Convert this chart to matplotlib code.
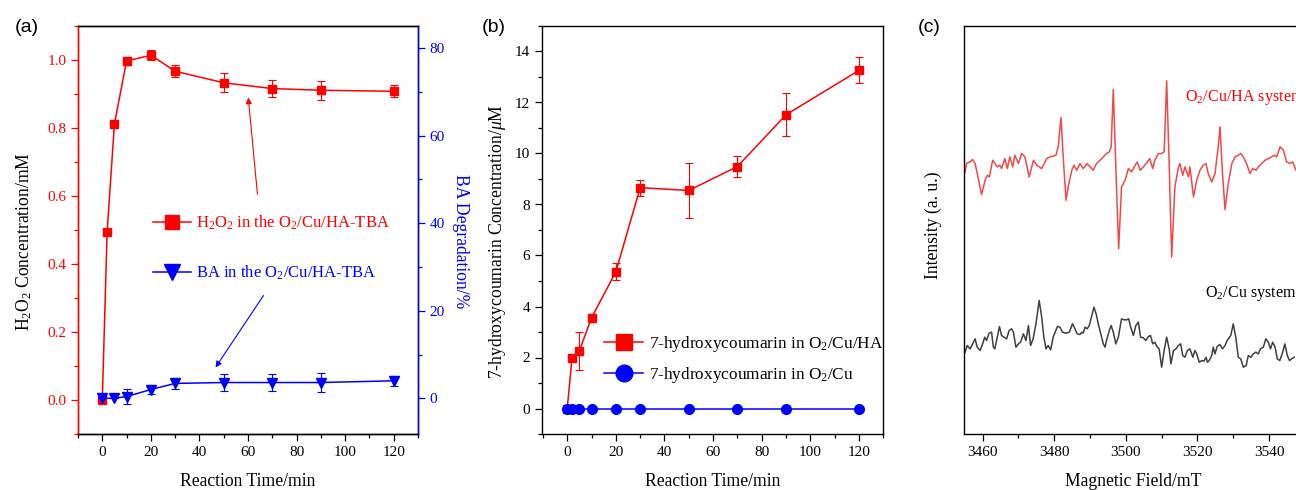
import numpy as np
import matplotlib.pyplot as plt
from matplotlib.lines import Line2D
from matplotlib.ticker import MultipleLocator

plt.rcParams['font.family'] = ['Liberation Serif', 'DejaVu Serif']
plt.rcParams['mathtext.fontset'] = 'custom'
plt.rcParams['mathtext.rm'] = 'Liberation Serif'
plt.rcParams['mathtext.it'] = 'Liberation Serif:italic'
plt.rcParams['mathtext.bf'] = 'Liberation Serif:bold'

# ---- panel (a): H2O2 and BA vs time
time_a = [0, 2, 5, 10, 20, 30, 50, 70, 90, 120]
h2o2 = [0.0, 0.495, 0.812, 0.997, 1.014, 0.967, 0.933, 0.916, 0.911, 0.908]
h2o2_err = [0, 0, 0, 0.012, 0.014, 0.018, 0.028, 0.025, 0.028, 0.018]
time_ba = [0, 5, 10, 20, 30, 50, 70, 90, 120]
ba_deg = [0, 0, 0.4, 2.0, 3.4, 3.6, 3.6, 3.6, 4.0]
ba_err = [0, 0, 1.8, 1.0, 1.3, 2.0, 1.9, 2.2, 1.1]

# ---- panel (b): 7-hydroxycoumarin vs time
time_b = [0, 2, 5, 10, 20, 30, 50, 70, 90, 120]
hc_ha = [0.0, 2.0, 2.26, 3.56, 5.36, 8.66, 8.55, 9.49, 11.52, 13.26]
hc_ha_err = [0, 0.1, 0.75, 0.15, 0.33, 0.31, 1.07, 0.43, 0.84, 0.51]
hc_cu = [0, 0, 0, 0, 0, 0, 0, 0, 0, 0]

# ---- panel (c): EPR spectra (arbitrary intensity)
field_red = [3455.1, 3455.5, 3456.5, 3457.2, 3457.9, 3458.5, 3459.7, 3460.7, 3461.3, 3461.9,
             3462.8, 3463.5, 3464.1, 3464.8, 3465.3, 3466.2, 3466.9, 3467.6, 3468.4, 3469.0,
             3470.0, 3470.9, 3471.8, 3473.0, 3474.2, 3475.1, 3476.5, 3477.9, 3478.8, 3479.6,
             3480.5, 3481.1, 3481.9, 3482.5, 3483.3, 3483.9, 3484.9, 3485.5, 3486.3, 3487.2,
             3488.1, 3489.2, 3490.0, 3490.9, 3491.8, 3492.8, 3493.7, 3494.6, 3495.4, 3495.9,
             3496.5, 3497.2, 3498.0, 3498.8, 3499.8, 3500.7, 3501.6, 3502.6, 3503.2, 3504.0,
             3504.9, 3506.0, 3506.7, 3507.5, 3508.1, 3509.1, 3510.0, 3510.7, 3511.4, 3512.1,
             3512.8, 3513.7, 3514.7, 3515.1, 3515.9, 3516.5, 3517.5, 3517.9, 3518.9, 3519.8,
             3520.7, 3521.6, 3522.4, 3523.0, 3524.0, 3524.9, 3525.8, 3526.3, 3527.0, 3527.7,
             3528.6, 3529.6, 3530.5, 3531.4, 3532.1, 3532.8, 3533.7, 3534.7, 3535.4, 3536.4,
             3537.0, 3537.9, 3538.9, 3539.8, 3540.7, 3541.4, 3542.1, 3543.1, 3544.0, 3544.9,
             3545.9, 3546.6, 3547.5]
int_red = [7.85, 8.10, 8.15, 8.22, 8.10, 7.80, 7.17, 7.60, 7.75, 7.70,
           8.20, 8.10, 8.00, 8.05, 7.95, 8.25, 7.95, 8.30, 8.00, 8.35,
           8.10, 8.40, 8.30, 7.70, 8.20, 8.05, 7.95, 8.25, 8.30, 8.32,
           8.35, 8.60, 9.48, 8.30, 7.00, 7.40, 7.90, 8.05, 7.90, 8.10,
           7.95, 8.10, 8.00, 7.90, 8.10, 8.20, 8.30, 8.40, 8.45, 8.60,
           10.32, 8.00, 5.55, 7.40, 7.60, 7.95, 7.85, 8.05, 8.15, 7.90,
           8.00, 8.15, 8.25, 7.95, 8.20, 8.40, 8.40, 8.45, 10.58, 8.10,
           5.30, 7.40, 8.00, 8.10, 7.75, 8.00, 7.70, 8.00, 7.10, 7.60,
           7.90, 8.05, 8.10, 7.80, 7.55, 7.80, 8.60, 9.20, 7.80, 6.72,
           7.50, 8.10, 8.30, 8.35, 8.40, 8.30, 8.10, 7.80, 7.95, 7.90,
           8.00, 8.10, 8.20, 8.25, 8.30, 8.35, 8.30, 8.60, 8.50, 8.15,
           8.10, 8.15, 7.90]

field_black = [3455.1, 3455.7, 3456.5, 3457.2, 3457.9, 3458.5, 3459.3, 3460.0, 3460.6, 3461.1,
               3461.8, 3462.5, 3463.0, 3463.4, 3464.1, 3464.7, 3465.3, 3466.0, 3466.7, 3467.4,
               3468.1, 3468.6, 3469.3, 3470.0, 3470.6, 3471.4, 3472.1, 3472.8, 3473.4, 3474.1,
               3474.9, 3475.8, 3476.5, 3477.1, 3477.7, 3478.3, 3479.0, 3479.7, 3480.9, 3481.6,
               3482.3, 3483.3, 3484.2,
               3485.1, 3485.8, 3486.4, 3487.2, 3487.7, 3488.1, 3488.6, 3489.2, 3489.8, 3490.4,
               3491.1, 3491.7, 3492.3, 3493.0, 3493.7, 3494.2, 3494.6, 3495.4, 3495.9, 3496.5,
               3497.2, 3497.9, 3498.8, 3499.5, 3500.2, 3500.8, 3501.3, 3502.1, 3502.8, 3503.5,
               3504.1, 3504.9, 3505.6, 3506.3, 3506.9, 3507.5, 3508.1, 3508.8, 3509.3, 3510.0,
               3510.7, 3511.4, 3512.1, 3512.6, 3513.3, 3514.0, 3514.7, 3515.3,
               3515.9, 3516.5, 3517.2, 3517.9, 3518.7, 3519.3, 3519.8, 3520.5, 3521.2, 3521.8,
               3522.4, 3522.8, 3523.3, 3524.0, 3524.4, 3524.9, 3525.5, 3526.3, 3527.0, 3527.7,
               3528.3, 3529.3, 3530.0, 3530.7, 3531.4, 3532.1, 3532.8, 3533.6, 3534.2, 3534.9,
               3535.6, 3536.3, 3537.0, 3537.6, 3538.4, 3539.1, 3539.8, 3540.4, 3541.0, 3541.7,
               3542.3, 3543.0, 3543.8, 3544.4, 3545.1, 3545.7, 3546.3, 3547.0]
int_black = [2.45, 2.65, 2.55, 2.70, 2.85, 2.60, 2.50, 2.70, 2.90, 2.80,
             3.02, 3.05, 2.60, 2.55, 2.90, 3.22, 2.95, 2.90, 2.85, 3.10,
             3.15, 3.05, 2.60, 2.70, 2.75, 3.00, 2.80, 3.25, 2.65, 2.85,
             3.30, 4.00, 3.50, 2.90, 2.55, 2.65, 2.52, 2.90, 3.22, 3.20,
             3.05, 3.02, 3.05,
             3.30, 3.15, 3.00, 2.98, 3.05, 3.02, 3.20, 3.15, 3.25, 3.50,
             3.80, 3.60, 3.30, 3.00, 2.70, 2.60, 2.80, 3.10, 3.25, 3.05,
             2.70, 2.90, 3.45, 3.42, 3.42, 3.45, 3.22, 2.95, 3.25, 3.35,
             2.90, 2.88, 2.80, 2.92, 2.95, 2.70, 2.75, 2.60, 2.55, 2.00,
             2.50, 2.90, 2.55, 2.10, 2.50, 2.55, 2.65, 2.70,
             2.35, 2.30, 2.50, 2.55, 2.30, 2.50, 2.40, 2.15, 2.20, 2.18,
             2.30, 2.15, 2.20, 2.35, 2.60, 2.40, 2.62, 2.68, 2.55, 2.65,
             2.80, 2.95, 3.30, 2.90, 2.30, 2.25, 2.00, 2.05, 2.35, 2.30,
             2.40, 2.45, 2.40, 2.55, 2.60, 2.85, 2.75, 2.55, 2.75, 2.60,
             2.25, 2.20, 2.45, 2.70, 2.35, 2.20, 2.25, 2.30]

TICK_FS = 11
LABEL_FS = 12.7

fig = plt.figure(figsize=(12.96, 4.9), dpi=100)
W, H = 1296, 490


def style_axes(ax):
    ax.tick_params(which='both', direction='out', labelsize=TICK_FS, top=False, right=False)
    ax.tick_params(which='major', length=5, width=0.9)
    ax.tick_params(which='minor', length=3, width=0.9)
    for s in ax.spines.values():
        s.set_linewidth(1.0)


# ================= (a)
ax1 = fig.add_axes([78 / W, 56 / H, 340 / W, 408 / H])
ax1.errorbar(time_a, h2o2, yerr=h2o2_err, color='red', marker='s', markersize=6.3,
             lw=1.1, capsize=3, elinewidth=0.8, capthick=0.8, zorder=3)
ax1.set_xlim(-10, 130)
ax1.set_ylim(-0.1, 1.1)
ax1.xaxis.set_major_locator(MultipleLocator(20))
ax1.xaxis.set_minor_locator(MultipleLocator(10))
ax1.yaxis.set_major_locator(MultipleLocator(0.2))
ax1.yaxis.set_minor_locator(MultipleLocator(0.1))
ax1.yaxis.set_major_formatter(plt.FormatStrFormatter('%.1f'))
style_axes(ax1)
ax1.tick_params(axis='y', which='both', colors='red')
ax1.spines['left'].set_color('red')
ax1.set_xlabel('Reaction Time/min', fontsize=LABEL_FS)
ax1.set_ylabel(r'H$_2$O$_2$ Concentration/mM', fontsize=LABEL_FS)
ax1.xaxis.set_label_coords(0.5, -0.095)
ax1.yaxis.set_label_coords(-0.13, 0.473)

ax2 = ax1.twinx()
ax2.errorbar(time_ba, ba_deg, yerr=ba_err, color='blue', marker='v', markersize=7.5,
             lw=1.1, capsize=3, elinewidth=0.8, capthick=0.8, zorder=3)
ax2.set_ylim(-8.15, 85)
ax2.yaxis.set_major_locator(MultipleLocator(20))
ax2.yaxis.set_minor_locator(MultipleLocator(10))
style_axes(ax2)
ax2.tick_params(axis='y', which='both', colors='blue', right=True, left=False)
ax2.spines['right'].set_color('blue')
ax2.spines['left'].set_color('red')
ax2.set_ylabel('BA Degradation/%', fontsize=LABEL_FS, color='blue', rotation=270, va='bottom')
ax2.yaxis.set_label_coords(1.10, 0.473)

handles_a = [Line2D([], [], color='red', marker='s', markersize=10, lw=1.1),
             Line2D([], [], color='blue', marker='v', markersize=11, lw=1.1)]
labels_a = [r'H$_2$O$_2$ in the O$_2$/Cu/HA-TBA', r'BA in the O$_2$/Cu/HA-TBA']
leg = ax2.legend(handles_a, labels_a, loc='upper left', bbox_to_anchor=(0.22, 0.54),
                 frameon=False, fontsize=12, handlelength=2.3, handletextpad=0.3,
                 labelspacing=1.9, borderpad=0, borderaxespad=0)
for txt, c in zip(leg.get_texts(), ['red', 'blue']):
    txt.set_color(c)

ax1.annotate('', xy=(60, 0.898), xytext=(64, 0.597),
             arrowprops=dict(arrowstyle='-|>', color='red', lw=0.8, mutation_scale=9))
ax1.annotate('', xy=(46, 0.089), xytext=(67, 0.314),
             arrowprops=dict(arrowstyle='-|>', color='blue', lw=0.8, mutation_scale=9))

# ================= (b)
axb = fig.add_axes([541.7 / W, 56 / H, 341.6 / W, 408 / H])
axb.errorbar(time_b, hc_ha, yerr=hc_ha_err, color='red', marker='s', markersize=6.3,
             lw=1.1, capsize=3, elinewidth=0.8, capthick=0.8, zorder=3)
axb.plot(time_b, hc_cu, color='blue', marker='o', markersize=7, lw=1.1, zorder=4)
axb.set_xlim(-10.5, 130)
axb.set_ylim(-1, 15)
axb.xaxis.set_major_locator(MultipleLocator(20))
axb.xaxis.set_minor_locator(MultipleLocator(10))
axb.yaxis.set_major_locator(MultipleLocator(2))
axb.yaxis.set_minor_locator(MultipleLocator(1))
style_axes(axb)
axb.set_xlabel('Reaction Time/min', fontsize=LABEL_FS)
axb.set_ylabel(r'7-hydroxycoumarin Concentration/$\mu$M', fontsize=LABEL_FS)
axb.xaxis.set_label_coords(0.5, -0.095)
axb.yaxis.set_label_coords(-0.1, 0.473)
handles_b = [Line2D([], [], color='red', marker='s', markersize=11, lw=1.1),
             Line2D([], [], color='blue', marker='o', markersize=12, lw=1.1)]
labels_b = [r'7-hydroxycoumarin in O$_2$/Cu/HA', r'7-hydroxycoumarin in O$_2$/Cu']
axb.legend(handles_b, labels_b, loc='upper left', bbox_to_anchor=(0.182, 0.245),
           frameon=False, fontsize=12.4, handlelength=2.3, handletextpad=0.3,
           labelspacing=0.65, borderpad=0, borderaxespad=0)

# ================= (c)
axc = fig.add_axes([964 / W, 56 / H, 338 / W, 408 / H])
axc.plot(field_red, int_red, color='#f04848', lw=1.1)
axc.plot(field_black, int_black, color='#404040', lw=1.1)
axc.set_xlim(3454.8, 3549.2)
axc.set_ylim(0, 12.22)
axc.xaxis.set_major_locator(MultipleLocator(20))
axc.xaxis.set_minor_locator(MultipleLocator(10))
axc.set_yticks([])
style_axes(axc)
axc.set_xlabel('Magnetic Field/mT', fontsize=LABEL_FS)
axc.set_ylabel('Intensity (a. u.)', fontsize=LABEL_FS)
axc.xaxis.set_label_coords(0.5, -0.095)
axc.yaxis.set_label_coords(-0.065, 0.512)
axc.text(3516.6, 10.09, r'O$_2$/Cu/HA system', color='red', fontsize=11.6, va='center')
axc.text(3522.2, 4.21, r'O$_2$/Cu system', color='black', fontsize=11.6, va='center')

# panel letters
for x, lab in [(15, '(a)'), (482, '(b)'), (918, '(c)')]:
    fig.text(x / W, 1 - 27 / H, lab, fontsize=14, family='Liberation Sans', va='center')

fig.savefig('out.png', dpi=100)
